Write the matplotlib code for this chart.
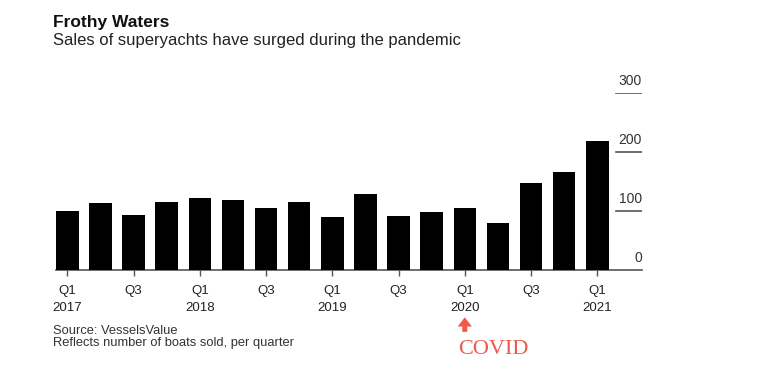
import matplotlib.pyplot as plt

# quarterly superyacht sales, Q1 2017 .. Q1 2021
quarters = ['Q1 2017', 'Q2 2017', 'Q3 2017', 'Q4 2017',
            'Q1 2018', 'Q2 2018', 'Q3 2018', 'Q4 2018',
            'Q1 2019', 'Q2 2019', 'Q3 2019', 'Q4 2019',
            'Q1 2020', 'Q2 2020', 'Q3 2020', 'Q4 2020',
            'Q1 2021']
sales = [100, 114, 93, 116, 123, 119, 106, 116, 90, 129,
         92, 98, 106, 79, 147, 167, 219]
tick_labels = ['Q1\n2017', 'Q3', 'Q1\n2018', 'Q3', 'Q1\n2019', 'Q3',
               'Q1\n2020', 'Q3', 'Q1\n2021']
y_ticks = [0, 100, 200, 300]

plt.rcParams['font.family'] = ['Liberation Sans', 'DejaVu Sans']

W, H = 767, 377
fig = plt.figure(figsize=(W / 100, H / 100), dpi=100)
# axes box in pixel terms: x 56..642, y 93..270 (from top)
ax = fig.add_axes([56 / W, (H - 270) / H, 586 / W, 176.7 / H])

x = list(range(len(sales)))
ax.bar(x, sales, width=0.68, color='black', zorder=3)
ax.set_xlim(-0.34, 17.35)
ax.set_ylim(0, 300)

for s in ['top', 'right', 'left']:
    ax.spines[s].set_visible(False)
ax.spines['bottom'].set_color('#555555')
ax.spines['bottom'].set_linewidth(1.2)

ax.set_xticks(x[::2])
ax.set_xticklabels(tick_labels, fontsize=9.5, color='#222222', linespacing=1.65)
ax.tick_params(axis='x', length=4, width=1, color='#555555', pad=6.5)
ax.set_yticks([])

# short right-hand grid marks with labels above them
for v in y_ticks:
    if v > 0:
        ax.axhline(v, xmin=0.956, xmax=1.0, color='#555555', linewidth=1.2)
    ax.annotate(str(v), xy=(17.35, v), xytext=(0, 6), textcoords='offset points',
                ha='right', va='baseline', fontsize=10, color='#333333')

fig.text(53 / W, 1 - 27 / H, 'Frothy Waters', fontsize=12.5, fontweight='bold',
         color='#111111', va='baseline')
fig.text(53 / W, 1 - 45 / H, 'Sales of superyachts have surged during the pandemic',
         fontsize=12, color='#222222', va='baseline')
fig.text(53 / W, 1 - 334 / H, 'Source: VesselsValue', fontsize=9.3,
         color='#333333', va='baseline')
fig.text(53 / W, 1 - 346 / H, 'Reflects number of boats sold, per quarter',
         fontsize=9.3, color='#333333', va='baseline')

# COVID marker under Q1 2020
red = '#ee5a4a'
ax.annotate('', xy=(12, -0.268), xytext=(12, -0.35),
            xycoords=('data', 'axes fraction'), textcoords=('data', 'axes fraction'),
            arrowprops=dict(arrowstyle='simple,head_length=0.55,head_width=0.85,tail_width=0.3',
                            color=red, linewidth=0, mutation_scale=12,
                            shrinkA=0, shrinkB=0),
            annotation_clip=False)
ax.text(12.85, -0.473, 'COVID', transform=ax.get_xaxis_transform(),
        ha='center', va='baseline', fontsize=16, color=red,
        family=['Liberation Serif', 'DejaVu Serif'])

plt.savefig('out.png', dpi=100)
